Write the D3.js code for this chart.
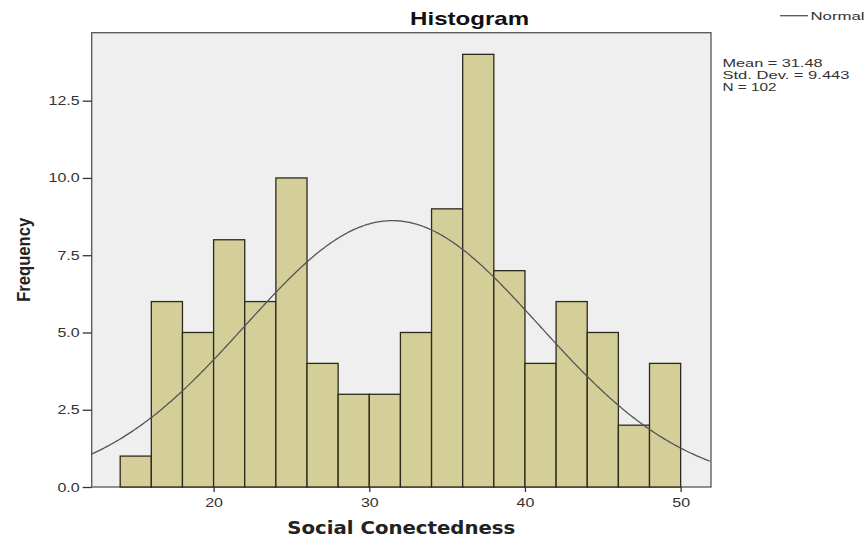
<!DOCTYPE html>
<html><head><meta charset="utf-8">
<script src="https://cdn.jsdelivr.net/npm/d3@7"></script>
<style>body{margin:0;background:#fff}svg{display:block}</style>
</head><body><svg id="c" width="864" height="540"></svg>
<script>
const binStarts = [14,16,18,20,22,24,26,28,30,32,34,36,38,40,42,44,46,48];
const counts    = [1,6,5,8,6,10,4,3,3,5,9,14,7,4,6,5,2,4];
const binWidth = 2;
const xTicks = [20,30,40,50];
const yTicks = [0,2.5,5,7.5,10,12.5];
const mean = 31.48, sd = 9.443, N = 102;
const statsLines = ["Mean = 31.48","Std. Dev. = 9.443","N = 102"];
const statsWidths = [100,127,54];

const svg = d3.select("#c");
const L=91.7, R=711, T=32.7, B=487;
const x = d3.scaleLinear().domain([12.17,51.95]).range([L,R]);
const y = d3.scaleLinear().domain([0,14.7]).range([B,T]);
const FONT = "Liberation Sans, Arial, sans-serif";

svg.append("rect").attr("x",L).attr("y",T).attr("width",R-L).attr("height",B-T)
  .attr("fill","#efefef").attr("stroke","#555").attr("stroke-width",1.3);

svg.append("g").selectAll("rect").data(binStarts).join("rect")
  .attr("x",d=>x(d)).attr("width",d=>x(d+binWidth)-x(d))
  .attr("y",(d,i)=>y(counts[i])).attr("height",(d,i)=>B-y(counts[i]))
  .attr("fill","#d4cf98").attr("stroke","#2b2a1c").attr("stroke-width",1.3);

// normal curve from stated mean / sd
const scale = N*binWidth/(sd*Math.sqrt(2*Math.PI));
const xs = d3.range(12.17, 51.96, 0.1);
const line = d3.line().x(d=>x(d)).y(d=>y(scale*Math.exp(-0.5*((d-mean)/sd)**2)));
svg.append("path").datum(xs).attr("d",line).attr("fill","none").attr("stroke","#555").attr("stroke-width",1.3);

const xAxis = svg.append("g").attr("transform",`translate(0,${B})`)
  .call(d3.axisBottom(x).tickValues(xTicks).tickSize(5).tickPadding(6).tickFormat(d3.format("d")));
xAxis.select(".domain").remove();
const yAxis = svg.append("g").attr("transform",`translate(${L},0)`)
  .call(d3.axisLeft(y).tickValues(yTicks).tickSize(9).tickPadding(3).tickFormat(d3.format(".1f")));
yAxis.select(".domain").remove();
[xAxis,yAxis].forEach(a=>{
  a.selectAll("line").attr("stroke","#333").attr("stroke-width",1.3);
  a.selectAll("text").attr("fill","#333").style("font-family",FONT).style("font-size","12.5px")
    .each(function(){ const w=this.getComputedTextLength(); d3.select(this).attr("textLength",w*1.28).attr("lengthAdjust","spacingAndGlyphs"); });
});

svg.append("text").attr("x",469.6).attr("y",25).attr("text-anchor","middle")
  .style("font-family",FONT).style("font-weight","bold").style("font-size","18.5px")
  .attr("textLength",119).attr("lengthAdjust","spacingAndGlyphs").attr("fill","#111").text("Histogram");

svg.append("text").attr("x",(L+R)/2).attr("y",534).attr("text-anchor","middle")
  .style("font-family","DejaVu Sans, sans-serif").style("font-weight","bold").style("font-size","17px")
  .attr("textLength",228).attr("lengthAdjust","spacingAndGlyphs").attr("fill","#222").text("Social Conectedness");

svg.append("text").attr("transform",`translate(30,${(T+B)/2}) rotate(-90)`).attr("text-anchor","middle")
  .style("font-family",FONT).style("font-weight","bold").style("font-size","18px")
  .attr("textLength",84).attr("lengthAdjust","spacingAndGlyphs").attr("fill","#222").text("Frequency");

svg.append("line").attr("x1",780).attr("x2",808).attr("y1",15.7).attr("y2",15.7).attr("stroke","#555").attr("stroke-width",1.3);
svg.append("text").attr("x",810.5).attr("y",20).style("font-family",FONT)
  .style("font-size","11.5px").attr("textLength",54).attr("lengthAdjust","spacingAndGlyphs").attr("fill","#333").text("Normal");

svg.append("g").selectAll("text").data(statsLines).join("text")
  .attr("x",722.5).attr("y",(d,i)=>67+i*12.2).style("font-family",FONT)
  .style("font-size","11.5px").attr("fill","#333")
  .attr("textLength",(d,i)=>statsWidths[i]).attr("lengthAdjust","spacingAndGlyphs").text(d=>d);
</script></body></html>
